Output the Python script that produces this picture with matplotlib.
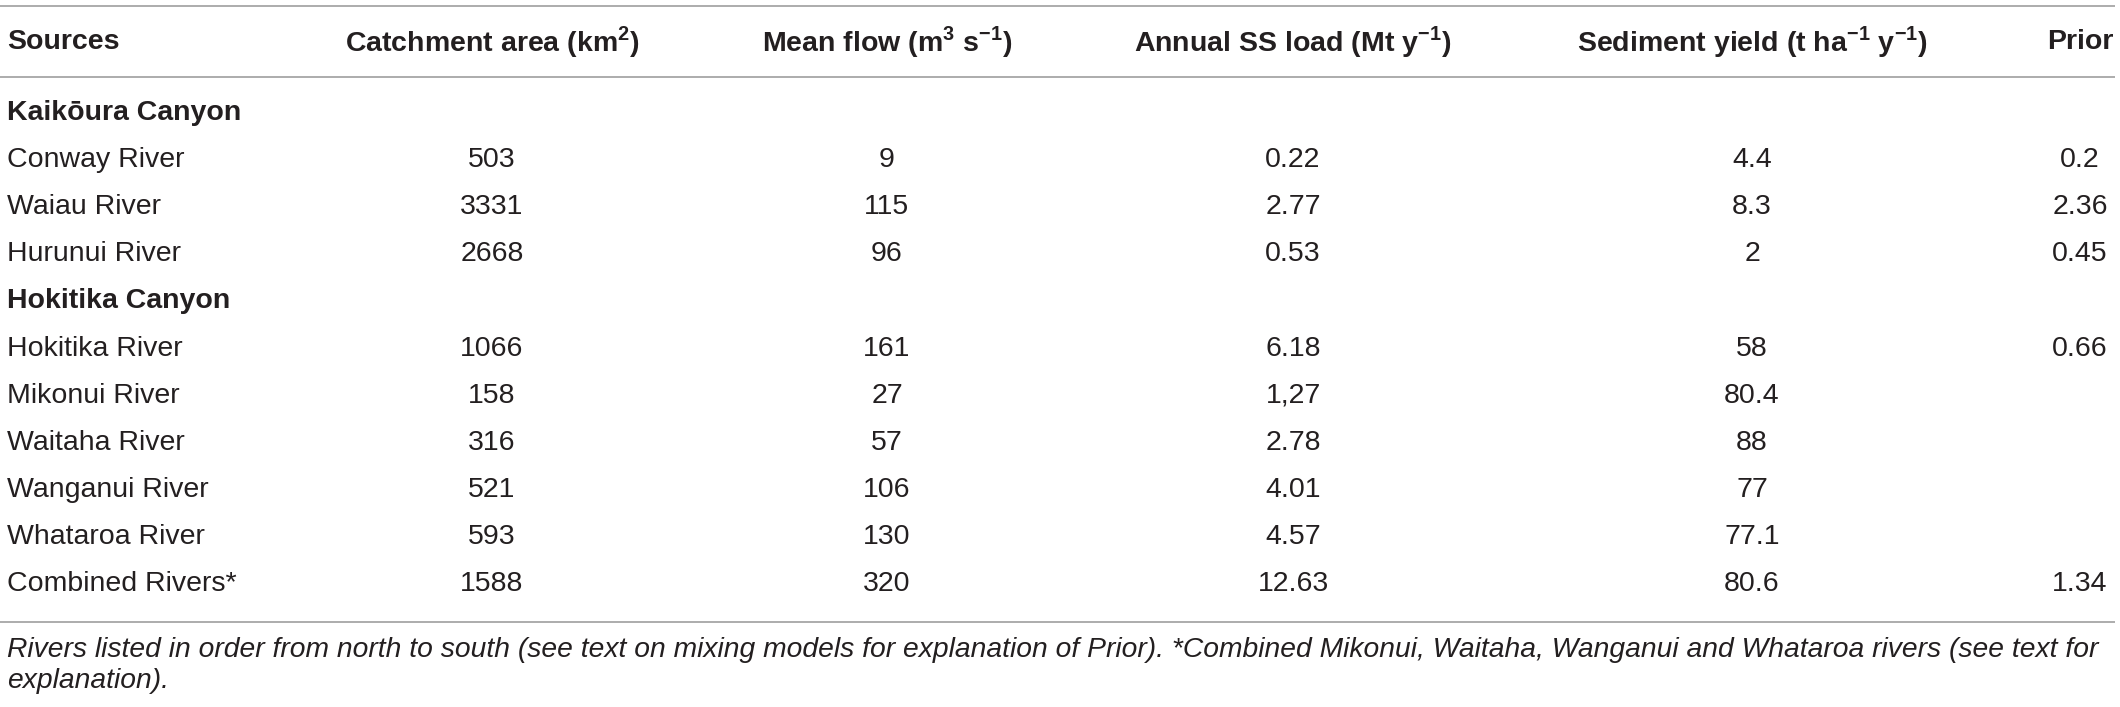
import matplotlib
matplotlib.use("Agg")
import matplotlib.pyplot as plt

OUTPUT_IMAGE = "out.png"

# table content
headers = [
    "Sources",
    r"Catchment area (km$^{\mathbf{2}}$)",
    r"Mean flow (m$^{\mathbf{3}}$ s$^{\mathbf{-1}}$)",
    r"Annual SS load (Mt y$^{\mathbf{-1}}$)",
    r"Sediment yield (t ha$^{\mathbf{-1}}$ y$^{\mathbf{-1}}$)",
    "Prior",
]
groups = ["Kaikōura Canyon", "Hokitika Canyon"]
group_rows = [3, 6]
sources = ["Conway River", "Waiau River", "Hurunui River",
           "Hokitika River", "Mikonui River", "Waitaha River", "Wanganui River",
           "Whataroa River", "Combined Rivers*"]
catchment_area = ["503", "3331", "2668", "1066", "158", "316", "521", "593", "1588"]
mean_flow = ["9", "115", "96", "161", "27", "57", "106", "130", "320"]
ss_load = ["0.22", "2.77", "0.53", "6.18", "1,27", "2.78", "4.01", "4.57", "12.63"]
sediment_yield = ["4.4", "8.3", "2", "58", "80.4", "88", "77", "77.1", "80.6"]
prior = ["0.2", "2.36", "0.45", "0.66", "", "", "", "", "1.34"]
footnote = [
    "Rivers listed in order from north to south (see text on mixing models for explanation of Prior). "
    "*Combined Mikonui, Waitaha, Wanganui and Whataroa rivers (see text for",
    "explanation).",
]

# layout (pixel units)
W, H = 2120, 707
COL_X = [7, 492, 887, 1293, 1752, 2080]
COL_HA = ["left", "center", "center", "center", "center", "center"]
HEADER_Y = 42
FIRST_ROW_Y = 113
ROW_STEP = 47.1
LINE_YS = [5.5, 77, 622]
FOOT_Y = [650, 681]
TEXT_C = "#231f20"
LINE_C = "#a6a6a6"
FS = 20.5

plt.rcParams["mathtext.fontset"] = "custom"
plt.rcParams["mathtext.rm"] = "Liberation Sans"
plt.rcParams["mathtext.bf"] = "Liberation Sans:bold"
plt.rcParams["font.family"] = ["Liberation Sans", "DejaVu Sans"]

fig = plt.figure(figsize=(W / 100, H / 100), dpi=100)
ax = fig.add_axes([0, 0, 1, 1])
ax.set_xlim(0, W)
ax.set_ylim(H, 0)
ax.axis("off")

for y in LINE_YS:
    ax.plot([0, 2115], [y, y], color=LINE_C, lw=1.3, solid_capstyle="butt")

for x, ha, h in zip(COL_X, COL_HA, headers):
    ax.text(x, HEADER_Y, h, ha=ha, va="center", fontsize=FS, fontweight="bold", color=TEXT_C)

columns = [sources, catchment_area, mean_flow, ss_load, sediment_yield, prior]
row = 0
src_i = 0
for g, n in zip(groups, group_rows):
    y = FIRST_ROW_Y + row * ROW_STEP
    ax.text(COL_X[0], y, g, ha="left", va="center", fontsize=FS, fontweight="bold", color=TEXT_C)
    row += 1
    for _ in range(n):
        y = FIRST_ROW_Y + row * ROW_STEP
        for x, ha, col in zip(COL_X, COL_HA, columns):
            ax.text(x, y, col[src_i], ha=ha, va="center", fontsize=FS, color=TEXT_C)
        src_i += 1
        row += 1

for y, line in zip(FOOT_Y, footnote):
    ax.text(7, y, line, ha="left", va="center", fontsize=20.3, style="italic", color=TEXT_C)

fig.savefig(OUTPUT_IMAGE, dpi=100)
